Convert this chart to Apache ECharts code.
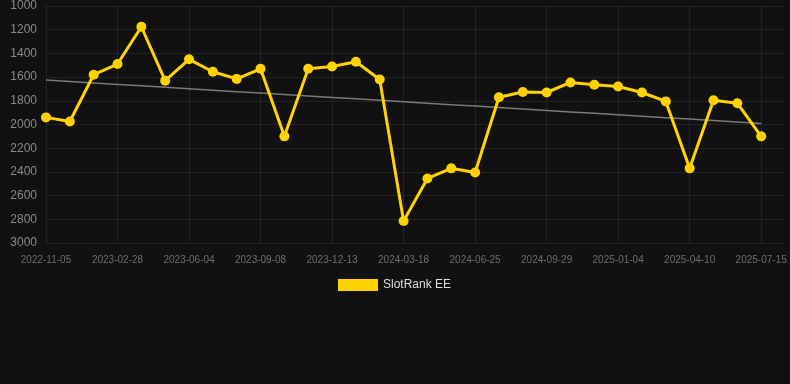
<!DOCTYPE html>
<html><head><meta charset="utf-8">
<script src="https://cdn.jsdelivr.net/npm/echarts@6/dist/echarts.min.js"></script>
<style>html,body{margin:0;padding:0;background:#111111;}#c{width:790px;height:384px;}</style>
</head><body><div id="c"></div>
<script>
const categories = ["2022-11-05","2022-12-13","2023-01-21","2023-02-28","2023-03-31","2023-05-03","2023-06-04","2023-07-06","2023-08-07","2023-09-08","2023-10-10","2023-11-11","2023-12-13","2024-01-14","2024-02-15","2024-03-18","2024-04-20","2024-05-23","2024-06-25","2024-07-27","2024-08-28","2024-09-29","2024-10-31","2024-12-03","2025-01-04","2025-02-05","2025-03-09","2025-04-10","2025-05-12","2025-06-13","2025-07-15"];
const rankValues = [1940,1975,1580,1490,1175,1630,1450,1555,1615,1530,2100,1530,1510,1470,1620,2815,2455,2370,2405,1770,1725,1730,1645,1665,1680,1730,1805,2370,1795,1820,2100];
const yTicks = {min:1000, max:3000, interval:200};
const seriesName = "SlotRank EE";

// linear regression trend derived from the data
const n = rankValues.length;
let sx=0, sy=0, sxy=0, sxx=0;
rankValues.forEach((v,i)=>{sx+=i;sy+=v;sxy+=i*v;sxx+=i*i;});
const slope = (n*sxy - sx*sy)/(n*sxx - sx*sx);
const icpt = (sy - slope*sx)/n;
const trend = rankValues.map((v,i)=>+(icpt+slope*i).toFixed(1));

const chart = echarts.init(document.getElementById('c'));
chart.setOption({
  backgroundColor:'#111111',
  animation:false,
  grid:{left:46, right:5, top:6, bottom:141, containLabel:false},
  legend:{
    data:[seriesName], top:274, left:333,
    itemWidth:40, itemHeight:12, icon:'rect', itemGap:10,
    textStyle:{color:'#dddddd', fontSize:12, fontFamily:'Liberation Sans, Arial, sans-serif'}
  },
  xAxis:{
    type:'category', data:categories, boundaryGap:false, max:categories.length,
    axisLine:{show:false}, axisTick:{show:false},
    axisLabel:{interval:2, color:'#6e6e6e', fontSize:10, margin:12, fontFamily:'Liberation Sans, Arial, sans-serif'},
    splitLine:{show:true, interval:2, lineStyle:{color:'#222222', width:1}}
  },
  yAxis:{
    type:'value', inverse:true, min:yTicks.min, max:yTicks.max, interval:yTicks.interval,
    axisLine:{show:false}, axisTick:{show:false},
    axisLabel:{color:'#8a8a8a', fontSize:12, margin:9, formatter:v=>String(v), fontFamily:'Liberation Sans, Arial, sans-serif'},
    splitLine:{show:true, lineStyle:{color:'#232323', width:1}}
  },
  series:[
    {
      name:'trend', type:'line', data:trend, symbol:'none', silent:true,
      lineStyle:{color:'#7a7a7a', width:1.5}, z:1
    },
    {
      name:seriesName, type:'line', data:rankValues,
      symbol:'circle', symbolSize:10,
      itemStyle:{color:'#ffd200'},
      lineStyle:{color:'#ffd200', width:3}, z:3
    }
  ]
});
</script></body></html>
